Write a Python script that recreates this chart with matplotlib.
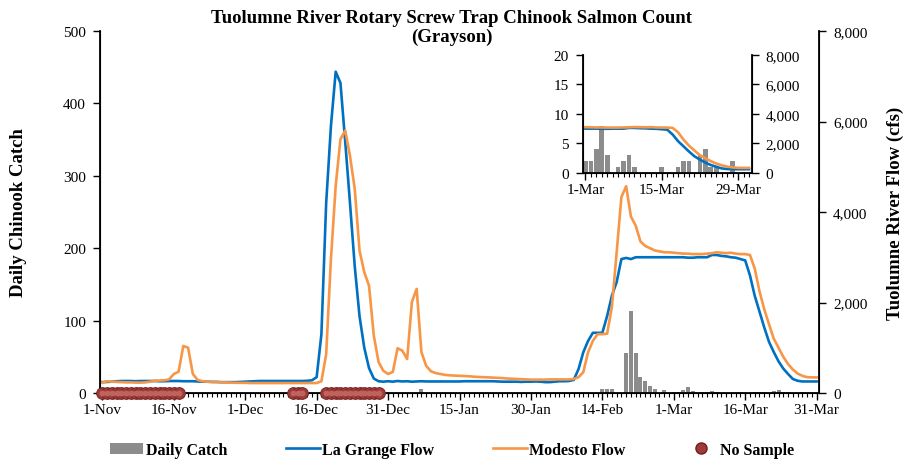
import matplotlib
matplotlib.use("Agg")
import matplotlib.pyplot as plt
import pandas as pd
from matplotlib.lines import Line2D
from matplotlib.patches import Patch
from matplotlib.ticker import FuncFormatter, MultipleLocator

plt.rcParams['font.family'] = ['Liberation Serif', 'DejaVu Serif']

# daily values, 1-Nov to 31-Mar
dates = pd.date_range('2022-11-01', '2023-03-31', freq='D')

la_grange = [
    240, 245, 250, 260, 265, 265, 265, 260, 265, 265,
    265, 265, 260, 260, 265, 265, 265, 260, 260, 260,
    255, 250, 250, 245, 245, 240, 240, 240, 240, 245,
    250, 255, 260, 265, 265, 265, 265, 265, 265, 265,
    265, 265, 265, 270, 280, 350, 1300, 4200, 5900, 7100,
    6850, 5550, 4200, 2800, 1700, 1000, 550, 320, 260, 250,
    260, 250, 265, 255, 260, 250, 255, 260, 255, 255,
    255, 255, 255, 255, 255, 255, 260, 260, 260, 260,
    260, 260, 260, 255, 250, 250, 250, 250, 245, 250,
    250, 255, 250, 240, 240, 250, 260, 260, 265, 290,
    530, 900, 1150, 1330, 1330, 1330, 1700, 2150, 2450, 2960,
    2985, 2960, 3000, 3000, 3000, 3000, 3000, 3000, 3000, 3000,
    3000, 3000, 3000, 2990, 2990, 3000, 3000, 3000, 3050, 3050,
    3030, 3020, 3000, 2990, 2960, 2930, 2600, 2150, 1800, 1450,
    1130, 905, 700, 540, 420, 310, 270, 255, 255, 255, 255,
]

modesto = [
    230, 260, 250, 245, 240, 235, 235, 230, 230, 235,
    250, 270, 275, 280, 300, 420, 470, 1040, 1000, 420,
    290, 260, 250, 245, 240, 235, 235, 230, 225, 225,
    225, 220, 220, 220, 220, 220, 220, 220, 220, 220,
    220, 220, 220, 220, 220, 220, 260, 860, 2960, 4580,
    5610, 5800, 5240, 4510, 3150, 2670, 2370, 1270, 685, 490,
    420, 465, 990, 935, 750, 2010, 2300, 905, 600, 480,
    440, 420, 400, 390, 385, 380, 375, 370, 360, 355,
    350, 345, 340, 335, 330, 320, 315, 310, 305, 300,
    295, 295, 295, 295, 300, 300, 300, 300, 300, 310,
    350, 460, 900, 1150, 1300, 1300, 1310, 1900, 3100, 4330,
    4570, 3900, 3700, 3350, 3250, 3200, 3150, 3130, 3110, 3110,
    3100, 3090, 3080, 3080, 3070, 3070, 3070, 3080, 3090, 3110,
    3100, 3090, 3100, 3080, 3070, 3070, 3050, 2750, 2250, 1850,
    1520, 1200, 1000, 800, 640, 520, 430, 380, 350, 345, 345,
]

catch_dates = ['2023-01-07', '2023-02-14', '2023-02-15', '2023-02-16',
               '2023-02-19', '2023-02-20', '2023-02-21', '2023-02-22',
               '2023-02-23', '2023-02-24', '2023-02-25', '2023-02-27',
               '2023-03-01', '2023-03-02', '2023-03-03', '2023-03-04',
               '2023-03-05', '2023-03-07', '2023-03-08', '2023-03-09',
               '2023-03-10', '2023-03-15', '2023-03-18', '2023-03-19',
               '2023-03-20', '2023-03-22', '2023-03-23', '2023-03-24',
               '2023-03-25', '2023-03-28']
catch_counts = [5, 5, 5, 5,
                55, 113, 55, 22,
                17, 9, 6, 4,
                2, 2, 4, 8,
                3, 1, 2, 3,
                1, 1, 1, 2,
                2, 3, 4, 1,
                1, 2]

no_sample_start = ['2022-11-01', '2022-12-11', '2022-12-18']
no_sample_end = ['2022-11-17', '2022-12-13', '2022-12-29']

inset_start = '2023-03-01'

blue = '#0070C0'
orange = '#F79646'
gray = '#8C8C8C'
red = '#9E3A37'

day = pd.Series(range(len(dates)), index=dates)
catch = pd.Series(0, index=dates)
catch[pd.to_datetime(catch_dates)] = catch_counts
no_sample = []
for s, e in zip(no_sample_start, no_sample_end):
    no_sample += list(day[s:e].values)

labels = [f"{d.day}-{d.strftime('%b')}" for d in dates]

fig = plt.figure(figsize=(9.04, 4.64), dpi=100)
ax = fig.add_axes([100 / 904, 1 - 394 / 464, 719 / 904, 362 / 464])
ax2 = ax.twinx()


def style_axes(a, a2, xlim, tick_size):
    a.spines['top'].set_visible(False)
    a2.spines['top'].set_visible(False)
    for s in ['left', 'bottom']:
        a.spines[s].set_linewidth(1.3)
    a2.spines['right'].set_linewidth(1.3)
    a.set_xlim(*xlim)
    a.xaxis.set_minor_locator(MultipleLocator(1))
    a.tick_params(axis='x', which='major', direction='out', length=5, width=1, labelsize=tick_size, pad=2)
    a.tick_params(axis='x', which='minor', direction='out', length=3, width=0.8)
    a.tick_params(axis='y', direction='out', length=5, width=1, labelsize=tick_size, pad=5)
    a2.tick_params(axis='y', direction='out', length=5, width=1, labelsize=tick_size, pad=5)
    a2.set_ylim(0, 8000)
    a2.yaxis.set_major_locator(MultipleLocator(2000))
    a2.yaxis.set_major_formatter(FuncFormatter(lambda v, p: f"{int(v):,}"))


# main chart
ax.bar(day.values, catch.values, width=0.85, color=gray, zorder=2)
ax2.plot(day.values, la_grange, color=blue, lw=1.9, zorder=3)
ax2.plot(day.values, modesto, color=orange, lw=1.9, zorder=3)
ax2.scatter(no_sample, [0] * len(no_sample), s=72, color=red, edgecolors='#6E1F1F',
            linewidths=0.6, clip_on=False, zorder=6)
ax2.scatter(no_sample, [0] * len(no_sample), s=18, color='#C0625E', linewidths=0,
            clip_on=False, zorder=7)

ax.set_ylim(0, 500)
ax.yaxis.set_major_locator(MultipleLocator(100))
style_axes(ax, ax2, (-0.5, len(dates) - 0.5), 11)
ax.set_xticks(day.values[::15])
ax.set_xticklabels(labels[::15])

ax.set_ylabel('Daily Chinook Catch', fontsize=13.5, fontweight='bold', va='center', ha='center')
ax.yaxis.set_label_coords(-0.114, 0.5)
ax2.set_ylabel('Tuolumne River Flow (cfs)', fontsize=13.5, fontweight='bold', va='center',
               ha='center', rotation=90)
ax2.yaxis.set_label_coords(1.106, 0.5)

fig.text(0.5, 1 - 28 / 464, 'Tuolumne River Rotary Screw Trap Chinook Salmon Count\n(Grayson)',
         ha='center', va='center', fontsize=13.5, fontweight='bold', linespacing=1.2)

# inset for March
sub = day[inset_start:]
sub_x = range(len(sub))
ins = fig.add_axes([582.7 / 904, 1 - 174 / 464, 169 / 904, 118.3 / 464])
ins2 = ins.twinx()
ins.set_zorder(5)
ins2.set_zorder(6)
ins.bar(sub_x, catch[inset_start:].values, width=0.85, color=gray)
ins2.plot(sub_x, [la_grange[i] for i in sub.values], color=blue, lw=1.9)
ins2.plot(sub_x, [modesto[i] for i in sub.values], color=orange, lw=1.9)
ins.set_ylim(0, 20)
ins.yaxis.set_major_locator(MultipleLocator(5))
style_axes(ins, ins2, (-0.5, len(sub) - 0.5), 11)
ins.set_xticks(list(sub_x)[::14])
ins.set_xticklabels([labels[i] for i in sub.values[::14]])

handles = [
    Patch(facecolor=gray),
    Line2D([], [], color=blue, lw=1.9),
    Line2D([], [], color=orange, lw=1.9),
    Line2D([], [], ls='none', marker='o', markersize=8, color=red, markeredgecolor='#6E1F1F'),
]
fig.legend(handles, ['Daily Catch', 'La Grange Flow', 'Modesto Flow', 'No Sample'],
           loc='center', bbox_to_anchor=(0.5, 1 - 451 / 464), ncol=4, frameon=False,
           prop={'weight': 'bold', 'size': 11.5}, handlelength=2.1, handletextpad=0.15,
           columnspacing=3.7)

fig.savefig('out.png', dpi=100)
